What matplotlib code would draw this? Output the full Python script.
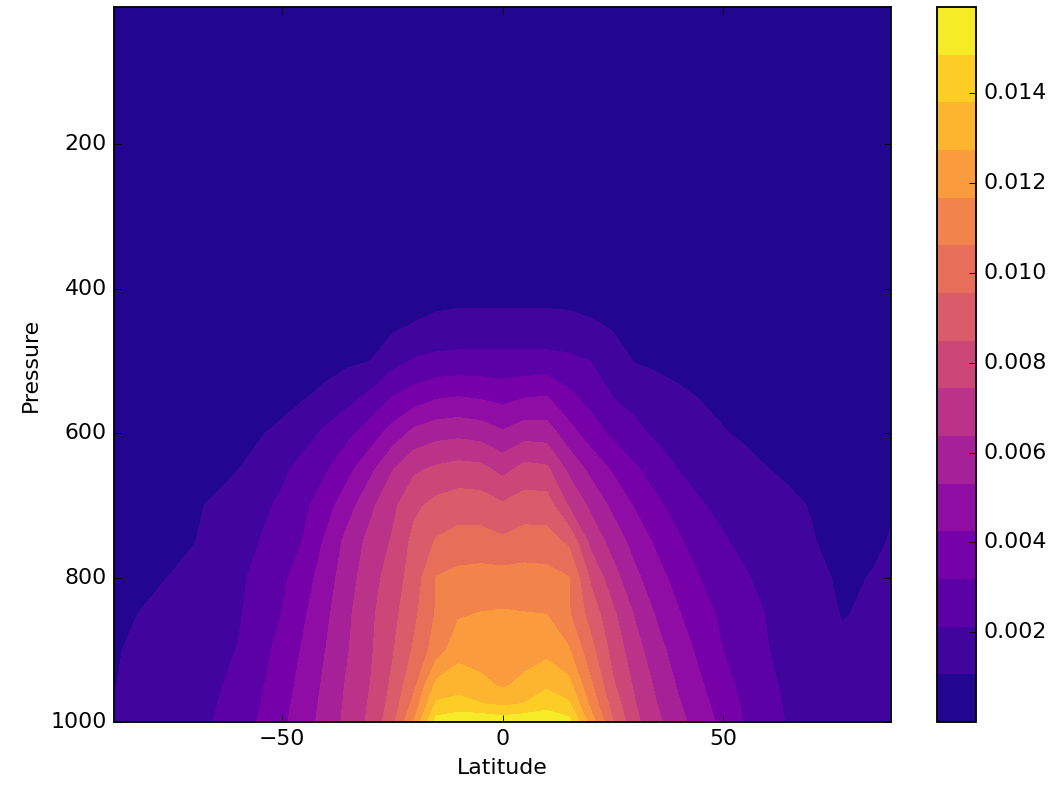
import matplotlib
matplotlib.use("Agg")
import matplotlib.pyplot as plt
import numpy as np

plt.style.use("classic")
plt.rcParams["font.family"] = ["DejaVu Sans"]

# zonal-mean specific humidity (g/kg)
lat = [-88, -80, -70, -60, -50, -45, -40, -35, -30, -25, -20, -15, -10, -5, 0, 5,
       10, 15, 20, 25, 30, 35, 40, 45, 50, 55, 60, 65, 70, 77, 84, 88]
pressure = [10, 100, 200, 300, 400, 450, 500, 550, 600, 650, 700, 750, 800, 850,
            900, 950, 975, 1000]

q10 = [0.002, 0.002, 0.002, 0.002, 0.002, 0.002, 0.002, 0.002, 0.002, 0.002, 0.002,
       0.002, 0.002, 0.002, 0.002, 0.002, 0.002, 0.002, 0.002, 0.002, 0.002, 0.002,
       0.002, 0.002, 0.002, 0.002, 0.002, 0.002, 0.002, 0.002, 0.002, 0.002]
q100 = [0.003, 0.003, 0.003, 0.003, 0.003, 0.003, 0.003, 0.003, 0.003, 0.003, 0.004,
        0.004, 0.004, 0.004, 0.004, 0.004, 0.004, 0.004, 0.004, 0.003, 0.003, 0.003,
        0.003, 0.003, 0.003, 0.003, 0.003, 0.003, 0.003, 0.003, 0.003, 0.003]
q200 = [0.003, 0.004, 0.005, 0.006, 0.008, 0.010, 0.012, 0.015, 0.020, 0.025, 0.030,
        0.035, 0.040, 0.040, 0.040, 0.040, 0.040, 0.035, 0.030, 0.025, 0.020, 0.015,
        0.012, 0.010, 0.008, 0.006, 0.005, 0.004, 0.004, 0.003, 0.003, 0.003]
q300 = [0.005, 0.01, 0.01, 0.02, 0.03, 0.04, 0.05, 0.06, 0.08, 0.10, 0.13, 0.16, 0.18,
        0.19, 0.19, 0.19, 0.18, 0.16, 0.13, 0.10, 0.08, 0.06, 0.05, 0.04, 0.03, 0.03,
        0.02, 0.01, 0.01, 0.01, 0.005, 0.005]
q400 = [0.01, 0.02, 0.04, 0.07, 0.12, 0.15, 0.19, 0.23, 0.30, 0.38, 0.49, 0.58, 0.64,
        0.66, 0.66, 0.66, 0.64, 0.59, 0.51, 0.40, 0.32, 0.25, 0.20, 0.16, 0.13, 0.10,
        0.07, 0.05, 0.04, 0.03, 0.02, 0.02]
q450 = [0.02, 0.05, 0.11, 0.19, 0.29, 0.35, 0.42, 0.53, 0.66, 0.85, 1.11, 1.33, 1.41,
        1.41, 1.41, 1.41, 1.41, 1.38, 1.19, 0.95, 0.74, 0.58, 0.48, 0.38, 0.30, 0.23,
        0.18, 0.14, 0.11, 0.07, 0.06, 0.06]
q500 = [0.05, 0.13, 0.23, 0.37, 0.53, 0.64, 0.74, 0.90, 1.05, 1.72, 2.23, 2.39, 2.44,
        2.44, 2.44, 2.44, 2.44, 2.33, 2.10, 1.52, 1.01, 0.85, 0.69, 0.58, 0.48, 0.37,
        0.30, 0.23, 0.19, 0.15, 0.15, 0.15]
q550 = [0.13, 0.27, 0.46, 0.66, 0.88, 1.00, 1.30, 1.78, 2.36, 3.20, 3.66, 4.13, 4.26,
        4.13, 3.90, 4.19, 4.29, 3.45, 2.78, 2.10, 1.83, 1.55, 1.26, 1.01, 0.85, 0.69,
        0.53, 0.42, 0.35, 0.30, 0.32, 0.32]
q600 = [0.21, 0.40, 0.64, 0.87, 1.18, 1.75, 2.33, 2.94, 3.69, 4.66, 5.62, 5.99, 6.10,
        5.94, 5.44, 5.94, 5.88, 4.66, 3.71, 2.95, 2.35, 1.95, 1.67, 1.40, 1.11, 0.93,
        0.76, 0.64, 0.53, 0.45, 0.51, 0.53]
q650 = [0.32, 0.53, 0.80, 1.04, 1.93, 2.47, 3.07, 3.96, 5.02, 6.31, 7.25, 7.63, 7.84,
        7.74, 7.10, 7.79, 7.63, 6.13, 5.01, 4.09, 3.33, 2.65, 2.07, 1.81, 1.57, 1.31,
        1.08, 0.90, 0.74, 0.58, 0.69, 0.74]
q700 = [0.42, 0.64, 0.92, 1.51, 2.29, 2.96, 3.82, 4.88, 6.11, 7.16, 8.27, 8.80, 9.06,
        9.01, 8.64, 9.01, 9.01, 7.31, 6.13, 5.04, 4.14, 3.37, 2.76, 2.18, 1.92, 1.70,
        1.46, 1.23, 1.01, 0.74, 0.90, 1.01]
q750 = [0.53, 0.80, 1.03, 1.69, 2.58, 3.25, 4.42, 5.67, 6.68, 7.53, 8.80, 9.65, 9.96,
        9.96, 9.75, 10.02, 9.96, 9.36, 7.10, 5.94, 4.88, 4.03, 3.29, 2.72, 2.20, 1.91,
        1.64, 1.38, 1.12, 0.74, 0.93, 1.11]
q800 = [0.64, 0.90, 1.30, 1.91, 2.95, 3.78, 4.80, 5.94, 6.97, 7.92, 8.97, 10.65, 10.92,
        11.02, 11.02, 11.02, 10.97, 10.65, 8.31, 6.76, 5.55, 4.61, 3.82, 3.13, 2.65,
        2.19, 1.89, 1.61, 1.34, 0.90, 1.11, 1.22]
q850 = [0.85, 1.17, 1.59, 1.99, 3.20, 4.11, 5.09, 6.18, 7.21, 8.14, 9.33, 10.71, 11.55,
        11.71, 11.77, 11.71, 11.66, 10.71, 9.12, 7.63, 6.25, 5.16, 4.30, 3.56, 2.97,
        2.51, 2.07, 1.80, 1.48, 1.01, 1.22, 1.33]
q900 = [0.99, 1.30, 1.70, 2.15, 3.50, 4.40, 5.32, 6.32, 7.27, 8.37, 9.71, 11.13, 12.30,
        12.19, 12.14, 12.24, 12.40, 11.77, 9.86, 8.11, 6.78, 5.67, 4.77, 3.94, 3.16,
        2.67, 2.15, 1.80, 1.54, 1.22, 1.38, 1.43]
q950 = [1.04, 1.38, 1.70, 2.34, 3.75, 4.64, 5.53, 6.54, 7.44, 8.69, 10.40, 13.10, 13.46,
        13.04, 12.61, 13.04, 13.67, 13.10, 10.80, 8.64, 7.24, 6.15, 5.15, 4.35, 3.53,
        2.87, 2.33, 1.91, 1.59, 1.27, 1.43, 1.48]
q975 = [1.19, 1.46, 1.75, 2.44, 3.89, 4.75, 5.63, 6.61, 7.55, 8.88, 11.00, 13.95, 14.10,
        13.85, 13.60, 13.85, 14.30, 13.95, 11.40, 9.06, 7.47, 6.36, 5.38, 4.56, 3.74,
        2.99, 2.42, 1.96, 1.64, 1.33, 1.48, 1.54]
q1000 = [1.33, 1.54, 1.80, 2.53, 4.03, 4.84, 5.72, 6.69, 7.65, 9.20, 11.80, 15.30, 15.79,
         15.74, 15.50, 15.72, 15.92, 15.20, 12.20, 9.60, 7.70, 6.60, 5.62, 4.77, 3.95,
         3.10, 2.51, 2.01, 1.70, 1.38, 1.54, 1.59]

rows = [q10, q100, q200, q300, q400, q450, q500, q550, q600, q650, q700, q750, q800,
        q850, q900, q950, q975, q1000]
q = np.array(rows) * 1e-3  # kg/kg

fig = plt.figure(figsize=(1057 / 132, 796 / 132), dpi=132)
ax = fig.add_axes([0.108, 0.093, 0.735, 0.898])
cax = fig.add_axes([0.8865, 0.093, 0.037, 0.898])

levels = np.linspace(q.min(), q.max(), 16)
cs = ax.contourf(lat, pressure, q, levels=levels, cmap="plasma")
ax.set_xlim(-88, 88)
ax.set_ylim(1000, 10)
ax.set_xticks([-50, 0, 50])
ax.set_yticks([200, 400, 600, 800, 1000])
ax.set_xlabel("Latitude")
ax.set_ylabel("Pressure")

cb = fig.colorbar(cs, cax=cax)
cb.set_ticks([0.002, 0.004, 0.006, 0.008, 0.010, 0.012, 0.014])

fig.savefig("out.png", dpi=132, facecolor="white")
